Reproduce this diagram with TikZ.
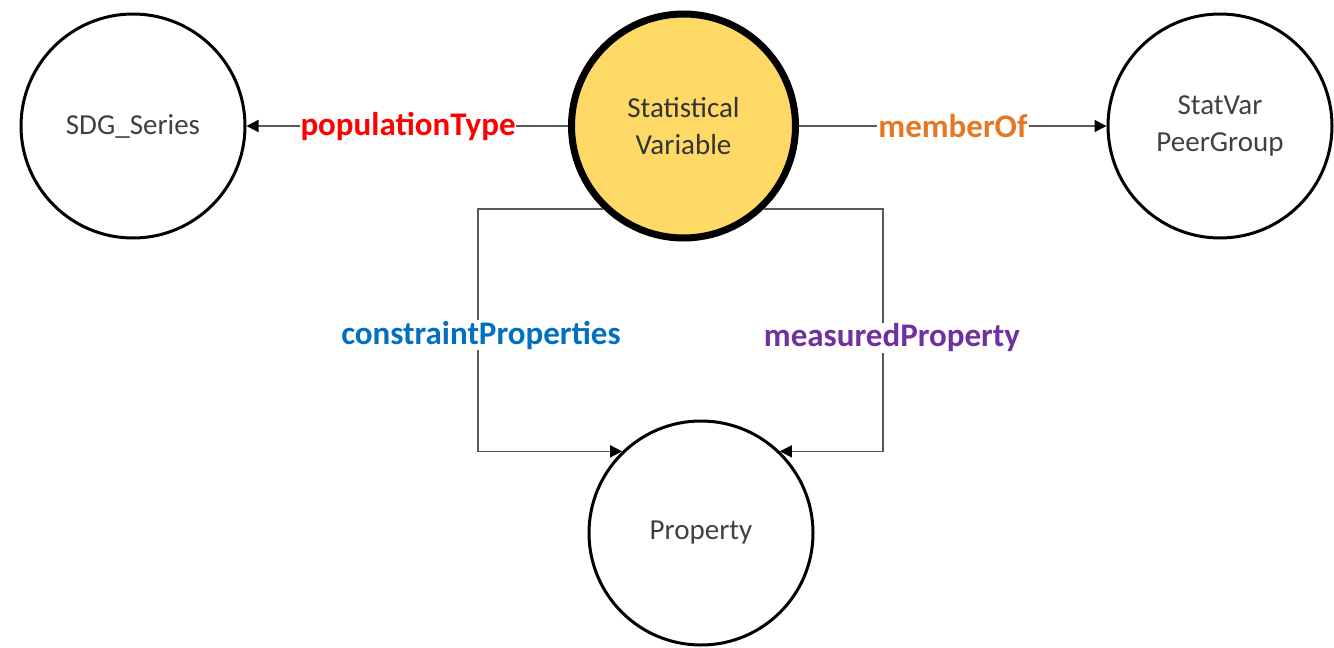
\documentclass[tikz,border=0pt]{standalone}
\usepackage{fontspec}
\setmainfont{Carlito}
\usetikzlibrary{arrows.meta}
\definecolor{svfill}{HTML}{FFD966}
\definecolor{txtgray}{HTML}{404040}
\definecolor{edgegray}{HTML}{595959}
\definecolor{cred}{HTML}{FF0000}
\definecolor{corange}{HTML}{E87722}
\definecolor{cblue}{HTML}{0070C0}
\definecolor{cpurple}{HTML}{7030A0}
\tikzset{
  entity/.style={circle, draw=black, line width=3pt, minimum size=224pt, inner sep=0pt,
    align=center, text=txtgray, font=\fontsize{29}{37}\selectfont},
  mainentity/.style={entity, line width=7pt, fill=svfill, text=black!80},
  edge/.style={draw=edgegray, line width=1.5pt, -{Triangle[length=12pt,width=12pt,fill=black,color=black]}},
  elabel/.style={fill=white, inner sep=1pt, font=\fontsize{33}{36}\selectfont\bfseries}
}
\begin{document}
\begin{tikzpicture}[x=1pt,y=-1pt]
\useasboundingbox (0,0) rectangle (1334,648);
\node[entity] (sdg) at (133,126) {SDG\_Series};
\node[mainentity] (sv) at (683.5,126) {Statistical\\Variable};
\node[entity] (peer) at (1220,126) {StatVar\\PeerGroup};
\node[entity] (prop) at (701,533) {Property};
\coordinate (cl) at (478,300);
\coordinate (cr) at (883,300);
\draw[edge] (sv.west) -- (sdg.east);
\node[elabel, text=cred] (lpop) at (408,126) {populationType};
\draw[edge] (sv.east) -- (peer.west);
\node[elabel, text=corange] (lmem) at (953,126) {memberOf};
\draw[edge] (sv.226) -| (cl |- prop.134) -- (prop.134);
\node[elabel, text=cblue] (lcon) at (481,335) {constraintProperties};
\draw[edge] (sv.314) -| (cr |- prop.46) -- (prop.46);
\node[elabel, text=cpurple] (lmea) at (892,338) {measuredProperty};
\end{tikzpicture}
\end{document}
